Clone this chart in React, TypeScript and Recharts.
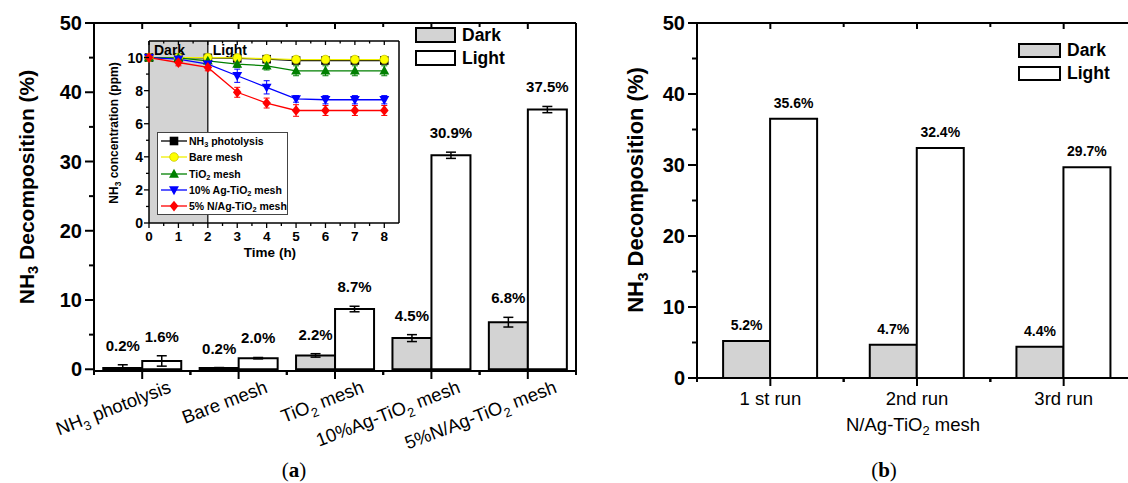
import React from 'react';
import { BarChart, Bar, LineChart, Line, XAxis, YAxis, ErrorBar, LabelList, ReferenceArea, ReferenceLine } from 'recharts';

const FONT = '"Liberation Sans", Arial, sans-serif';

// (a) NH3 decomposition per sample
const samplesA = ['NH3 photolysis', 'Bare mesh', 'TiO2 mesh', '10%Ag-TiO2 mesh', '5%N/Ag-TiO2 mesh'];
const darkA = [0.2, 0.2, 2.0, 4.5, 6.8];
const lightA = [1.2, 1.6, 8.7, 30.9, 37.5];
const darkErrA = [0.45, 0.05, 0.25, 0.5, 0.7];
const lightErrA = [0.75, 0.1, 0.4, 0.45, 0.45];
const darkTextA = ['0.2%', '0.2%', '2.2%', '4.5%', '6.8%'];
const lightTextA = ['1.6%', '2.0%', '8.7%', '30.9%', '37.5%'];

// (b) reuse of N/Ag-TiO2 mesh
const runsB = ['1 st run', '2nd run', '3rd run'];
const darkB = [5.2, 4.7, 4.4];
const lightB = [36.5, 32.4, 29.7];
const darkTextB = ['5.2%', '4.7%', '4.4%'];
const lightTextB = ['35.6%', '32.4%', '29.7%'];

// inset: NH3 concentration (ppm) vs time (h)
const hours = [0, 1, 2, 3, 4, 5, 6, 7, 8];
const photolysis = [10.0, 10.0, 9.98, 9.95, 9.9, 9.82, 9.82, 9.82, 9.82];
const bareMesh = [10.0, 10.0, 10.0, 9.98, 9.93, 9.88, 9.88, 9.88, 9.88];
const tio2Mesh = [10.0, 9.98, 9.8, 9.6, 9.5, 9.2, 9.2, 9.2, 9.2];
const agMesh = [10.0, 9.9, 9.6, 8.9, 8.2, 7.5, 7.45, 7.45, 7.45];
const nAgMesh = [10.0, 9.7, 9.4, 7.9, 7.25, 6.8, 6.8, 6.8, 6.8];
const photolysisErr = [0.1, 0.1, 0.1, 0.1, 0.1, 0.15, 0.15, 0.15, 0.15];
const bareErr = [0.15, 0.15, 0.15, 0.15, 0.15, 0.2, 0.2, 0.2, 0.2];
const tio2Err = [0.15, 0.2, 0.2, 0.2, 0.25, 0.3, 0.3, 0.3, 0.3];
const agErr = [0.2, 0.2, 0.2, 0.4, 0.4, 0.2, 0.25, 0.25, 0.25];
const nAgErr = [0.2, 0.2, 0.2, 0.3, 0.3, 0.35, 0.3, 0.3, 0.3];

const decompTicks = [0, 5, 10, 15, 20, 25, 30, 35, 40, 45, 50];
const decompLabels = [0, 10, 20, 30, 40, 50];
const concTicks = [0, 1, 2, 3, 4, 5, 6, 7, 8, 9, 10];
const concLabels = [0, 2, 4, 6, 8, 10];
const timeTicks = [0, 0.5, 1, 1.5, 2, 2.5, 3, 3.5, 4, 4.5, 5, 5.5, 6, 6.5, 7, 7.5, 8];

const dataA = samplesA.map((name, i) => ({
  name, dark: darkA[i], light: lightA[i], darkErr: darkErrA[i], lightErr: lightErrA[i],
  darkText: darkTextA[i], lightText: lightTextA[i],
}));
const dataB = runsB.map((name, i) => ({
  name, dark: darkB[i], light: lightB[i], darkText: darkTextB[i], lightText: lightTextB[i],
}));
const insetData = hours.map((t, i) => ({
  t,
  photolysis: photolysis[i], photolysisErr: photolysisErr[i],
  bare: bareMesh[i], bareErr: bareErr[i],
  tio2: tio2Mesh[i], tio2Err: tio2Err[i],
  ag: agMesh[i], agErr: agErr[i],
  nag: nAgMesh[i], nagErr: nAgErr[i],
}));

const insetSeries = [
  { key: 'photolysis', name: 'NH3 photolysis', color: '#000000', shape: 'square' },
  { key: 'bare', name: 'Bare mesh', color: '#f0f000', shape: 'circle' },
  { key: 'tio2', name: 'TiO2 mesh', color: '#008000', shape: 'up' },
  { key: 'ag', name: '10% Ag-TiO2 mesh', color: '#0000ff', shape: 'down' },
  { key: 'nag', name: '5% N/Ag-TiO2 mesh', color: '#ff0000', shape: 'diamond' },
];

// layout
const A_W = 600, A_H = 483, A_LEFT = 94, A_RIGHT = 24, A_TOP = 23, A_BOTTOM = 112;
const A_PW = A_W - A_LEFT - A_RIGHT;
const A_PX = (A_H - A_TOP - A_BOTTOM) / 50;
const B_W = 560, B_H = 483, B_LEFT = 97, B_RIGHT = 23, B_TOP = 23, B_BOTTOM = 105;
const B_PW = B_W - B_LEFT - B_RIGHT;
// inset box
const I_X = 100, I_Y = 30, I_W = 310, I_H = 240, I_LEFT = 49, I_RIGHT = 11, I_TOP = 11, I_BOTTOM = 47, I_YMAX = 11;
const insetY = (v: number) => I_Y + I_TOP + (1 - v / I_YMAX) * (I_H - I_TOP - I_BOTTOM);

// split "NH3" / "TiO2" so the digit can be a subscript
const subParts = (s: string) => s.split(/(?<=NH|TiO)(\d)/);

const SubSvg = ({ text, fs }: any) => (
  <>
    {subParts(text).map((p, i) =>
      i % 2 ? (
        <tspan key={i} dy={fs * 0.3} fontSize={fs * 0.7}>{p}</tspan>
      ) : (
        <tspan key={i} dy={i ? -fs * 0.3 : 0}>{p}</tspan>
      )
    )}
  </>
);

const SubHtml = ({ text }: any) => (
  <>
    {subParts(text).map((p, i) =>
      i % 2 ? <sub key={i} style={{ fontSize: '0.7em', verticalAlign: '-0.3em', lineHeight: 0 }}>{p}</sub> : <span key={i}>{p}</span>
    )}
  </>
);

const LeftValueTick = ({ x, y, payload, labels, fs, major, minor, gap, sw, noText }: any) => {
  const v = Number(payload.value);
  const isMajor = labels.includes(v);
  return (
    <g>
      <line x1={x - (isMajor ? major : minor)} x2={x} y1={y} y2={y} stroke="#000" strokeWidth={sw} />
      {isMajor && !noText && (
        <text x={x - gap} y={y} dy="0.35em" textAnchor="end" fontSize={fs} fontWeight="bold" fontFamily={FONT} fill="#000">
          {String(v)}
        </text>
      )}
    </g>
  );
};

const RightValueTick = ({ x, y, payload, labels, major, minor, sw }: any) => {
  const isMajor = labels.includes(Number(payload.value));
  return <line x1={x - (isMajor ? major : minor)} x2={x} y1={y} y2={y} stroke="#000" strokeWidth={sw} />;
};

const SampleTick = ({ x, y, payload, band }: any) => {
  const fs = 18.5;
  const ax = x + 30;
  const ay = y + 21;
  return (
    <g>
      <line x1={x} x2={x} y1={y} y2={y + 8} stroke="#000" strokeWidth={2} />
      <line x1={x - band / 2} x2={x - band / 2} y1={y} y2={y + 4} stroke="#000" strokeWidth={2} />
      <line x1={x + band / 2} x2={x + band / 2} y1={y} y2={y + 4} stroke="#000" strokeWidth={2} />
      <text x={ax} y={ay} textAnchor="end" transform={`rotate(-21 ${ax} ${ay})`} fontSize={fs} fontFamily={FONT} fill="#000">
        <SubSvg text={payload.value} fs={fs} />
      </text>
    </g>
  );
};

const RunTick = ({ x, y, payload, band }: any) => (
  <g>
    <line x1={x} x2={x} y1={y} y2={y + 8} stroke="#000" strokeWidth={2} />
    <line x1={x - band / 2} x2={x - band / 2} y1={y} y2={y + 4} stroke="#000" strokeWidth={2} />
    <line x1={x + band / 2} x2={x + band / 2} y1={y} y2={y + 4} stroke="#000" strokeWidth={2} />
    <text x={x} y={y + 27} textAnchor="middle" fontSize={18.5} fontFamily={FONT} fill="#000">
      {payload.value}
    </text>
  </g>
);

const TopCatTick = ({ x, y, band }: any) => (
  <g>
    <line x1={x} x2={x} y1={y} y2={y + 6} stroke="#000" strokeWidth={2} />
    <line x1={x + band / 2} x2={x + band / 2} y1={y} y2={y + 4} stroke="#000" strokeWidth={2} />
  </g>
);

const TimeTick = ({ x, y, payload }: any) => {
  const isMajor = Number.isInteger(payload.value);
  return (
    <g>
      <line x1={x} x2={x} y1={y} y2={y + (isMajor ? 5 : 3)} stroke="#000" strokeWidth={1.3} />
      {isMajor && (
        <text x={x} y={y + 18} textAnchor="middle" fontSize={13.5} fontWeight="bold" fontFamily={FONT} fill="#000">
          {payload.value}
        </text>
      )}
    </g>
  );
};

const TopTimeTick = ({ x, y, payload }: any) => {
  const isMajor = Number.isInteger(payload.value);
  return <line x1={x} x2={x} y1={y} y2={y + (isMajor ? 4 : 2.5)} stroke="#000" strokeWidth={1.3} />;
};

const BarText = ({ x, y, width, value, index, errs, px, gap, fs }: any) => {
  const err = errs ? errs[index] * px : 0;
  return (
    <text x={Number(x) + Number(width) / 2} y={Number(y) - gap - err} textAnchor="middle" fontSize={fs} fontWeight="bold" fontFamily={FONT} fill="#000">
      {value}
    </text>
  );
};

const Marker = ({ cx, cy, shape, color }: any) => {
  const s = 4.3;
  if (cx == null || cy == null) return null;
  switch (shape) {
    case 'square':
      return <rect x={cx - s} y={cy - s} width={2 * s} height={2 * s} fill={color} />;
    case 'circle':
      return <circle cx={cx} cy={cy} r={s} fill="#ffff00" stroke="#c8c800" strokeWidth={0.8} />;
    case 'up':
      return <polygon points={`${cx},${cy - s * 1.2} ${cx + s * 1.15},${cy + s * 0.85} ${cx - s * 1.15},${cy + s * 0.85}`} fill={color} />;
    case 'down':
      return <polygon points={`${cx},${cy + s * 1.2} ${cx + s * 1.15},${cy - s * 0.85} ${cx - s * 1.15},${cy - s * 0.85}`} fill={color} />;
    default:
      return <polygon points={`${cx},${cy - s * 1.25} ${cx + s},${cy} ${cx},${cy + s * 1.25} ${cx - s},${cy}`} fill={color} />;
  }
};

const Txt = ({ cx, cy, rotate = 0, align = -50, style, children }: any) => (
  <div
    style={{
      position: 'absolute', left: cx, top: cy, whiteSpace: 'nowrap', lineHeight: 1, zIndex: 10,
      transform: `translate(${align}%, -50%) rotate(${rotate}deg)`, fontFamily: FONT, color: '#000', ...style,
    }}
  >
    {children}
  </div>
);

const BarLegend = ({ left, top, boxW, boxH, step, fs }: any) => (
  <div style={{ position: 'absolute', left, top, fontFamily: FONT }}>
    {[{ name: 'Dark', fill: '#d3d3d3' }, { name: 'Light', fill: '#ffffff' }].map((e, i) => (
      <div key={e.name} style={{ position: 'absolute', top: i * step, left: 0, display: 'flex', alignItems: 'center', height: boxH, whiteSpace: 'nowrap' }}>
        <div style={{ width: boxW, height: boxH, boxSizing: 'border-box', border: '2px solid #000', background: e.fill }} />
        <span style={{ marginLeft: 6, fontSize: fs, fontWeight: 'bold' }}>{e.name}</span>
      </div>
    ))}
  </div>
);

const InsetLegend = () => (
  <div
    style={{
      position: 'absolute', left: 157, top: 132, width: 131, height: 83, boxSizing: 'border-box',
      border: '1.5px solid #444', background: '#fff', fontFamily: FONT,
    }}
  >
    {insetSeries.map((s, i) => (
      <div key={s.key} style={{ position: 'absolute', left: 3, top: 1 + i * 16.3, height: 14, display: 'flex', alignItems: 'center', whiteSpace: 'nowrap' }}>
        <svg width={26} height={14}>
          <line x1={0} x2={26} y1={7} y2={7} stroke={s.color} strokeWidth={1.3} />
          <Marker cx={13} cy={7} shape={s.shape} color={s.color} />
        </svg>
        <span style={{ marginLeft: 2, fontSize: 10.5, fontWeight: 'bold' }}>
          <SubHtml text={s.name} />
        </span>
      </div>
    ))}
  </div>
);

export default function App() {
  const bandA = A_PW / samplesA.length;
  const bandB = B_PW / runsB.length;
  return (
    <div style={{ position: 'absolute', left: 0, top: 0, width: 1128, height: 483, overflow: 'hidden', background: '#fff' }}>
      {/* panel (a) */}
      <div style={{ position: 'absolute', left: 0, top: 0 }}>
        <BarChart width={A_W} height={A_H} data={dataA} margin={{ top: 0, right: 0, bottom: 0, left: 0 }} barCategoryGap="9.6%" barGap={0}>
          <XAxis xAxisId="ax" dataKey="name" height={A_BOTTOM} tickSize={0} tickMargin={0} interval={0} axisLine={{ stroke: '#000', strokeWidth: 2 }}
            tick={(p: any) => <SampleTick {...p} band={bandA} />} />
          <XAxis xAxisId="axTop" dataKey="name" orientation="top" height={A_TOP} tickSize={0} tickMargin={0} interval={0}
            axisLine={{ stroke: '#000', strokeWidth: 2 }} tick={(p: any) => <TopCatTick {...p} band={bandA} />} />
          <YAxis yAxisId="ay" width={A_LEFT} domain={[0, 50]} ticks={decompTicks} interval={0} tickSize={0} tickMargin={0}
            axisLine={{ stroke: '#000', strokeWidth: 2 }}
            tick={(p: any) => <LeftValueTick {...p} labels={decompLabels} fs={20} major={9} minor={5} gap={12} sw={2} />} />
          <YAxis yAxisId="ayRight" orientation="right" width={A_RIGHT} domain={[0, 50]} ticks={decompTicks} interval={0} tickSize={0} tickMargin={0}
            axisLine={{ stroke: '#000', strokeWidth: 2 }}
            tick={(p: any) => <RightValueTick {...p} labels={decompLabels} major={7} minor={4} sw={2} />} />
          <Bar xAxisId="ax" yAxisId="ay" dataKey="dark" fill="#d3d3d3" stroke="#000" strokeWidth={2} isAnimationActive={false}>
            <ErrorBar dataKey="darkErr" width={5} stroke="#000" strokeWidth={1.5} />
            <LabelList dataKey="darkText" content={(p: any) => <BarText {...p} errs={darkErrA} px={A_PX} gap={14} fs={15} />} />
          </Bar>
          <Bar xAxisId="ax" yAxisId="ay" dataKey="light" fill="#ffffff" stroke="#000" strokeWidth={2} isAnimationActive={false}>
            <ErrorBar dataKey="lightErr" width={5} stroke="#000" strokeWidth={1.5} />
            <LabelList dataKey="lightText" content={(p: any) => <BarText {...p} errs={lightErrA} px={A_PX} gap={14} fs={15} />} />
          </Bar>
        </BarChart>
      </div>

      {/* inset of (a) */}
      <div style={{ position: 'absolute', left: I_X, top: I_Y }}>
        <LineChart width={I_W} height={I_H} data={insetData} margin={{ top: 0, right: 0, bottom: 0, left: 0 }}>
          <XAxis xAxisId="ix" dataKey="t" type="number" domain={[0, 8.5]} ticks={timeTicks} interval={0} height={I_BOTTOM} tickSize={0} tickMargin={0}
            axisLine={{ stroke: '#000', strokeWidth: 1.5 }} tick={(p: any) => <TimeTick {...p} />} />
          <XAxis xAxisId="ixTop" dataKey="t" type="number" orientation="top" domain={[0, 8.5]} ticks={timeTicks} interval={0} height={I_TOP}
            tickSize={0} tickMargin={0} axisLine={{ stroke: '#000', strokeWidth: 1.5 }} tick={(p: any) => <TopTimeTick {...p} />} />
          <YAxis yAxisId="iy" width={I_LEFT} domain={[0, I_YMAX]} ticks={concTicks} interval={0} tickSize={0} tickMargin={0}
            axisLine={{ stroke: '#000', strokeWidth: 1.5 }}
            tick={(p: any) => <LeftValueTick {...p} labels={concLabels} fs={14} major={5} minor={3} gap={6} sw={1.3} noText />} />
          <YAxis yAxisId="iyRight" orientation="right" width={I_RIGHT} domain={[0, I_YMAX]} ticks={concTicks} interval={0} tickSize={0} tickMargin={0}
            axisLine={{ stroke: '#000', strokeWidth: 1.5 }}
            tick={(p: any) => <RightValueTick {...p} labels={concLabels} major={4} minor={2.5} sw={1.3} />} />
          <ReferenceArea xAxisId="ix" yAxisId="iy" x1={0} x2={2} y1={0} y2={I_YMAX} fill="#d3d3d3" fillOpacity={1} stroke="none"
            label={(p: any) => (
              <text x={p.viewBox.x + 5} y={p.viewBox.y + 14} fontSize={14} fontWeight="bold" fontFamily={FONT} fill="#000">Dark</text>
            )} />
          <ReferenceLine xAxisId="ix" yAxisId="iy" x={2} stroke="#000" strokeWidth={1.2}
            label={(p: any) => (
              <text x={p.viewBox.x + 5} y={p.viewBox.y + 14} fontSize={14} fontWeight="bold" fontFamily={FONT} fill="#000">Light</text>
            )} />
          {insetSeries.map((s) => (
            <Line key={s.key} xAxisId="ix" yAxisId="iy" dataKey={s.key} name={s.name} stroke={s.color} strokeWidth={1.3} isAnimationActive={false}
              dot={(p: any) => <Marker key={p.index} cx={p.cx} cy={p.cy} shape={s.shape} color={s.color} />}>
              <ErrorBar dataKey={`${s.key}Err`} width={3} stroke={s.color} strokeWidth={1} />
            </Line>
          ))}
        </LineChart>
      </div>

      {/* inset y tick labels */}
      {concLabels.map((v) => (
        <Txt key={v} cx={I_X + I_LEFT - 6} cy={insetY(v)} align={-100} style={{ fontSize: 14, fontWeight: 'bold' }}>
          {v}
        </Txt>
      ))}

      {/* panel (b) */}
      <div style={{ position: 'absolute', left: 600, top: 0 }}>
        <BarChart width={B_W} height={B_H} data={dataB} margin={{ top: 0, right: 0, bottom: 0, left: 0 }} barCategoryGap="17.8%" barGap={0}>
          <XAxis xAxisId="bx" dataKey="name" height={B_BOTTOM} tickSize={0} tickMargin={0} interval={0} axisLine={{ stroke: '#000', strokeWidth: 2 }}
            tick={(p: any) => <RunTick {...p} band={bandB} />} />
          <XAxis xAxisId="bxTop" dataKey="name" orientation="top" height={B_TOP} tickSize={0} tickMargin={0} interval={0}
            axisLine={{ stroke: '#000', strokeWidth: 2 }} tick={(p: any) => <TopCatTick {...p} band={bandB} />} />
          <YAxis yAxisId="by" width={B_LEFT} domain={[0, 50]} ticks={decompTicks} interval={0} tickSize={0} tickMargin={0}
            axisLine={{ stroke: '#000', strokeWidth: 2 }}
            tick={(p: any) => <LeftValueTick {...p} labels={decompLabels} fs={20} major={9} minor={5} gap={12} sw={2} />} />
          <YAxis yAxisId="byRight" orientation="right" width={B_RIGHT} domain={[0, 50]} ticks={decompTicks} interval={0} tickSize={0} tickMargin={0}
            axisLine={{ stroke: '#000', strokeWidth: 2 }}
            tick={(p: any) => <RightValueTick {...p} labels={decompLabels} major={7} minor={4} sw={2} />} />
          <Bar xAxisId="bx" yAxisId="by" dataKey="dark" fill="#d3d3d3" stroke="#000" strokeWidth={2} isAnimationActive={false}>
            <LabelList dataKey="darkText" content={(p: any) => <BarText {...p} gap={11} fs={14} />} />
          </Bar>
          <Bar xAxisId="bx" yAxisId="by" dataKey="light" fill="#ffffff" stroke="#000" strokeWidth={2} isAnimationActive={false}>
            <LabelList dataKey="lightText" content={(p: any) => <BarText {...p} gap={11} fs={14} />} />
          </Bar>
        </BarChart>
      </div>

      {/* legends */}
      <BarLegend left={415} top={27} boxW={41} boxH={16} step={23} fs={17.5} />
      <BarLegend left={1018} top={43} boxW={43} boxH={15} step={23} fs={17.5} />
      <InsetLegend />

      {/* axis titles and panel captions */}
      <Txt cx={26} cy={187} rotate={-90} style={{ fontSize: 21, fontWeight: 'bold' }}>
        <SubHtml text="NH3 Decomposition (%)" />
      </Txt>
      <Txt cx={636} cy={190} rotate={-90} style={{ fontSize: 22, fontWeight: 'bold' }}>
        <SubHtml text="NH3 Decomposition (%)" />
      </Txt>
      <Txt cx={114} cy={133} rotate={-90} style={{ fontSize: 12, fontWeight: 'bold' }}>
        <SubHtml text="NH3 concentration (ppm)" />
      </Txt>
      <Txt cx={270} cy={253} style={{ fontSize: 13.5, fontWeight: 'bold' }}>Time (h)</Txt>
      <Txt cx={913} cy={425} style={{ fontSize: 18.5 }}>
        <SubHtml text="N/Ag-TiO2 mesh" />
      </Txt>
      <Txt cx={294} cy={470} style={{ fontSize: 21, fontFamily: '"Liberation Serif", serif' }}>
        (<b>a</b>)
      </Txt>
      <Txt cx={884} cy={470} style={{ fontSize: 21, fontFamily: '"Liberation Serif", serif' }}>
        (<b>b</b>)
      </Txt>
    </div>
  );
}
